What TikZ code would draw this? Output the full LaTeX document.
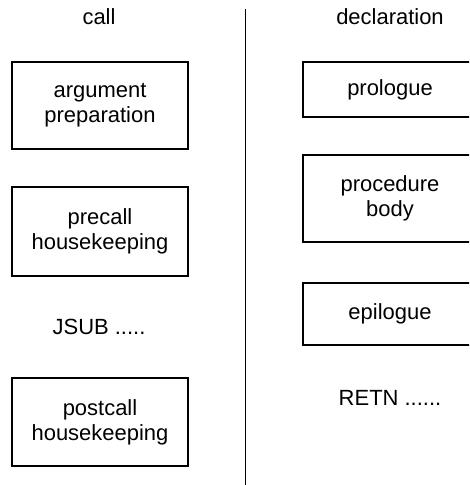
\documentclass[tikz,border=0pt]{standalone}
\usepackage{fontspec}
\setmainfont{Liberation Sans}
\usetikzlibrary{positioning}

\begin{document}
\begin{tikzpicture}[
    box/.style={draw, line width=0.8pt, minimum width=3.52cm, minimum height=1.74cm, align=center, font=\fontsize{12.5}{14.2}\selectfont},
    lbl/.style={font=\fontsize{12.5}{14.2}\selectfont, anchor=base}
]
\clip (0,0) rectangle (9.38,-9.70);
% call side
\node[lbl] (call) at (1.98,-0.50) {call};
\node[box] (argprep) at (2.00,-2.11) {argument\\preparation};
\node[box, minimum height=1.78cm] (precall) at (2.00,-4.63) {precall\\housekeeping};
\node[lbl] (jsub) at (1.98,-6.68) {JSUB .....};
\node[box, minimum height=1.76cm] (postcall) at (2.00,-8.44) {postcall\\housekeeping};
% declaration side
\node[lbl] (decl) at (7.80,-0.50) {declaration};
\node[box, minimum width=3.48cm, minimum height=1.10cm] (prologue) at (7.80,-1.79) {prologue};
\node[box, minimum width=3.48cm] (procbody) at (7.80,-3.97) {procedure\\body};
\node[box, minimum width=3.48cm, minimum height=1.24cm] (epilogue) at (7.80,-6.28) {epilogue};
\node[lbl] (retn) at (7.80,-8.10) {RETN ......};
% divider
\coordinate (divtop) at (4.91,-0.18);
\coordinate (divbot) at (4.91,-9.70);
\draw[line width=0.8pt] (divtop) -- (divbot);
\end{tikzpicture}
\end{document}
